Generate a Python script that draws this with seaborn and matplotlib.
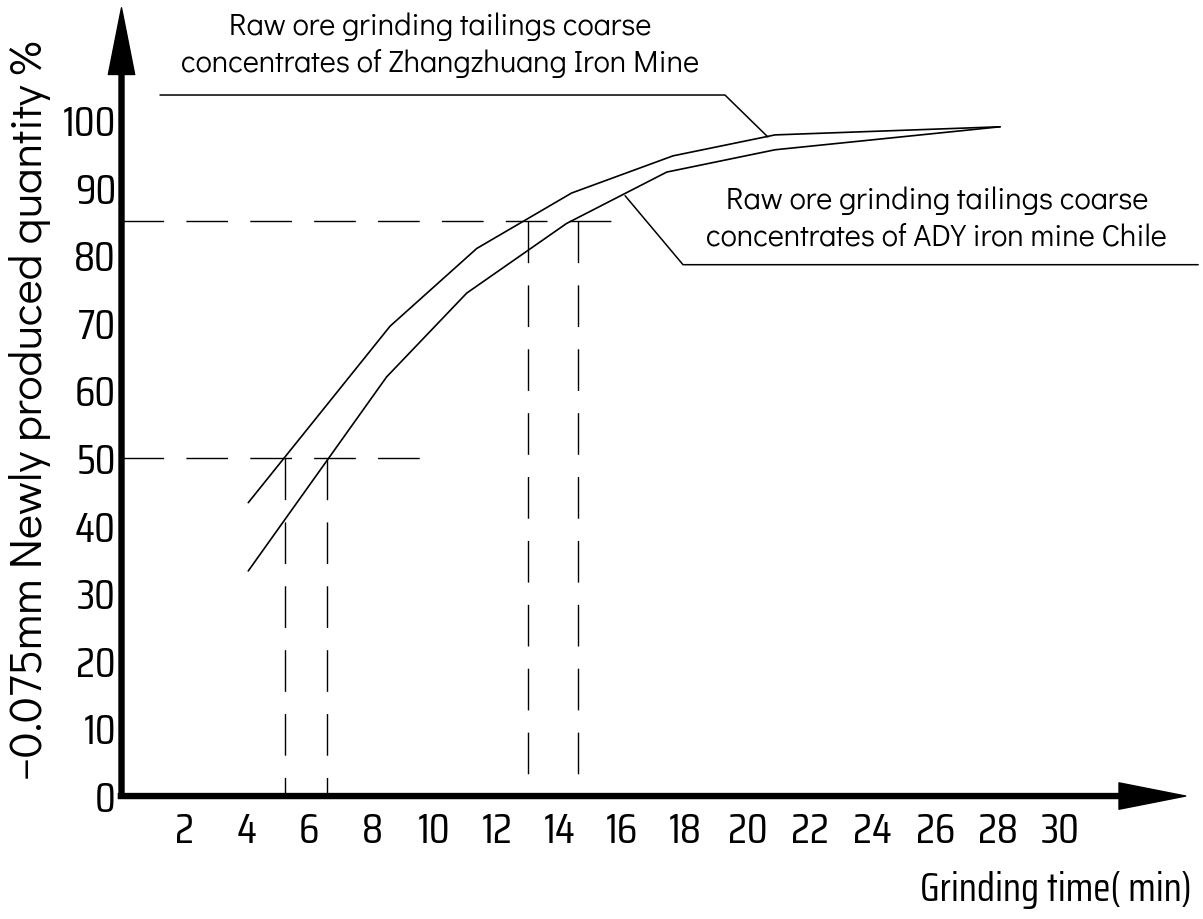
import matplotlib
matplotlib.use('Agg')
import matplotlib.pyplot as plt
import seaborn as sns
import pandas as pd

# grinding curves
time_zz = [4.05, 8.58, 11.35, 14.38, 17.62, 20.88, 28.07]
pct_zz = [43.4, 69.5, 81.0, 89.2, 94.7, 97.8, 99.0]
time_ady = [4.05, 8.47, 11.03, 14.22, 17.42, 20.88, 28.07]
pct_ady = [33.3, 62.0, 74.4, 84.7, 92.3, 95.6, 99.0]

# dashed read-off guides (level, time on each curve, end of horizontal guide)
guide_levels = [50, 85]
guide_times = [[5.22, 6.56], [12.99, 14.58]]
guide_ends = [9.92, 15.7]

x_ticks = list(range(2, 32, 2))
y_ticks = list(range(0, 110, 10))

label_zz = "Raw ore grinding tailings coarse\nconcentrates of Zhangzhuang Iron Mine"
label_ady = "Raw ore grinding tailings coarse\nconcentrates of ADY iron mine Chile"
x_title = "Grinding time( min)"
y_title = "\u22120.075mm Newly produced quantity %"

sns.set_style('white')
plt.rcParams['font.family'] = ['Didact Gothic', 'DejaVu Sans']
plt.rcParams['text.color'] = 'black'
plt.rcParams['xtick.color'] = 'black'
plt.rcParams['ytick.color'] = 'black'
narrow = ['Saira Condensed', 'PT Sans Narrow', 'Roboto Condensed', 'DejaVu Sans']
gothic = ['Didact Gothic', 'DejaVu Sans']

df = pd.concat([
    pd.DataFrame({'time': time_zz, 'pct': pct_zz, 'ore': 'zz'}),
    pd.DataFrame({'time': time_ady, 'pct': pct_ady, 'ore': 'ady'}),
])

fig = plt.figure(figsize=(12.03, 9.19), dpi=100)
ax = fig.add_axes([0.101, 0.1338, 0.8846, 0.8577])
ax.set_xlim(0, 34)
ax.set_ylim(0, 116.6)
for s in ax.spines.values():
    s.set_visible(False)

sns.lineplot(data=df, x='time', y='pct', hue='ore', palette=['black', 'black'],
             sort=False, estimator=None, legend=False, lw=1.2, ax=ax)

dash = (0, (30, 16))
for lvl, times, end in zip(guide_levels, guide_times, guide_ends):
    ax.plot([0, end], [lvl, lvl], color='black', lw=1.0, ls=dash)
    for t in times:
        ax.plot([t, t], [lvl, 0], color='black', lw=1.0, ls=dash)

# axes drawn as thick arrows
arrow = dict(facecolor='black', edgecolor='black', width=3.6, headwidth=19,
             headlength=48, shrink=0)
ax.annotate('', xy=(34, 0), xytext=(-0.1, 0), arrowprops=arrow, annotation_clip=False)
ax.annotate('', xy=(0, 116.6), xytext=(0, -0.3), arrowprops=arrow, annotation_clip=False)

ax.set_xticks(x_ticks)
ax.set_xticklabels([str(v) for v in x_ticks], family=narrow, fontsize=31)
ax.set_yticks(y_ticks)
ax.set_yticklabels([str(v) for v in y_ticks], family=narrow, fontsize=31)
ax.tick_params(length=0)
ax.tick_params(axis='x', pad=11)
ax.tick_params(axis='y', pad=4)
ax.set_xlabel('')
ax.set_ylabel('')

# leader lines and labels
ax.plot([1.23, 19.28, 20.65], [103.7, 103.7, 97.5], color='black', lw=1.1, clip_on=False)
ax.text(10.18, 111.1, label_zz, ha='center', va='center', family=gothic,
        fontsize=22, linespacing=1.35)
ax.plot([16.09, 17.94, 34.4], [88.8, 78.6, 78.6], color='black', lw=1.1, clip_on=False)
ax.text(26.05, 85.4, label_ady, ha='center', va='center', family=gothic,
        fontsize=22, linespacing=1.35)

fig.text(1192 / 1203, 1 - 890 / 919, x_title, ha='right', va='center',
         family=narrow, fontsize=29)
fig.text(30 / 1203, 1 - 410 / 919, y_title, ha='center', va='center',
         rotation=90, family=gothic, fontsize=33)

fig.savefig('out.png', dpi=100)
